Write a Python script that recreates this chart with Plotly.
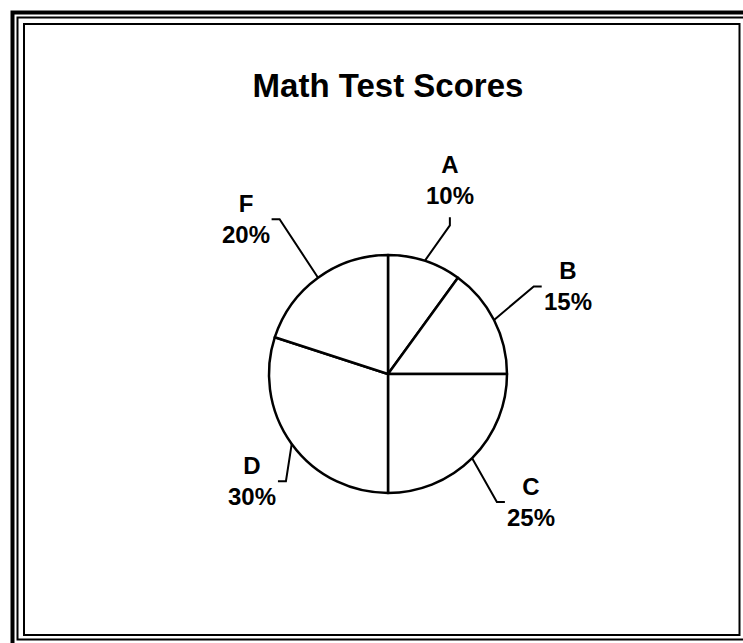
import math
import plotly.graph_objects as go

# Chart data
grades = ['A', 'B', 'C', 'D', 'F']
percents = [10, 15, 25, 30, 20]
chart_title = 'Math Test Scores'

# Layout constants (pixels)
W, H = 743, 643
CX, CY, R = 388, 374, 119
STUB = 8
FONT = 'Arial, Liberation Sans, sans-serif'

# leader elbow per slice: (angle offset from slice middle in degrees, distance from centre)
LEADER = {'A': (4.6, 161), 'B': (-4, 170), 'C': (4.6, 168), 'D': (-10.4, 148), 'F': (1, 189)}


def px_x(x):
    return x / W


def px_y(y):
    return 1 - y / H


fig = go.Figure()

fig.add_trace(go.Pie(
    labels=grades,
    values=percents,
    sort=False,
    direction='clockwise',
    rotation=0,
    textinfo='none',
    hoverinfo='skip',
    marker=dict(colors=['white'] * len(grades), line=dict(color='black', width=2.5)),
    domain=dict(x=[px_x(CX - R), px_x(CX + R)], y=[px_y(CY + R), px_y(CY - R)]),
    showlegend=False,
))

# Leader lines and labels placed from each slice's mid angle
shapes = []
annotations = []
total = sum(percents)
start = 0
for grade, pct in zip(grades, percents):
    mid = (start + pct / 2) / total * 2 * math.pi
    start += pct
    ax, ay = CX + R * math.sin(mid), CY - R * math.cos(mid)
    off, dist = LEADER[grade]
    ang = mid + math.radians(off)
    sx, sy = math.sin(ang), -math.cos(ang)
    ex, ey = CX + dist * sx, CY + dist * sy
    if abs(sx) < 0.5:
        tx, ty = ex, ey - STUB
        anchor = dict(xanchor='center', yanchor='bottom', yshift=6)
    elif sx > 0:
        tx, ty = ex + STUB, ey
        anchor = dict(xanchor='left', yanchor='middle')
    else:
        tx, ty = ex - STUB, ey
        anchor = dict(xanchor='right', yanchor='middle')
    path = (f'M {px_x(ax)} {px_y(ay)} L {px_x(ex)} {px_y(ey)} '
            f'L {px_x(tx)} {px_y(ty)}')
    shapes.append(dict(type='path', xref='paper', yref='paper', path=path,
                       line=dict(color='black', width=2)))
    annotations.append(dict(
        x=px_x(tx), y=px_y(ty), xref='paper', yref='paper',
        text=f'{grade}<br>{pct}%', showarrow=False,
        font=dict(family=FONT, size=24, color='black', weight='bold'),
        **anchor
    ))

# Triple frame around the chart
for inset, width, right, bottom in [(12.5, 4, 752, 650), (17.5, 2, 746, 639.5), (24, 2, 739.5, 635)]:
    shapes.append(dict(type='rect', xref='paper', yref='paper',
                       x0=px_x(inset), x1=px_x(right), y0=px_y(bottom), y1=px_y(inset),
                       line=dict(color='black', width=width)))

fig.update_layout(
    width=W,
    height=H,
    margin=dict(l=0, r=0, t=0, b=0),
    paper_bgcolor='white',
    plot_bgcolor='white',
    title=dict(text=chart_title, x=px_x(CX), y=px_y(85), xanchor='center', yanchor='middle',
               xref='paper', yref='container',
               font=dict(family=FONT, size=33, color='black', weight='bold')),
    shapes=shapes,
    annotations=annotations,
)

# the page body has a default 8px margin; drop it so the figure fills the window
fig.write_html('out.html', config={'displayModeBar': False},
               post_script="document.body.style.margin='0';document.body.style.overflow='hidden';")
